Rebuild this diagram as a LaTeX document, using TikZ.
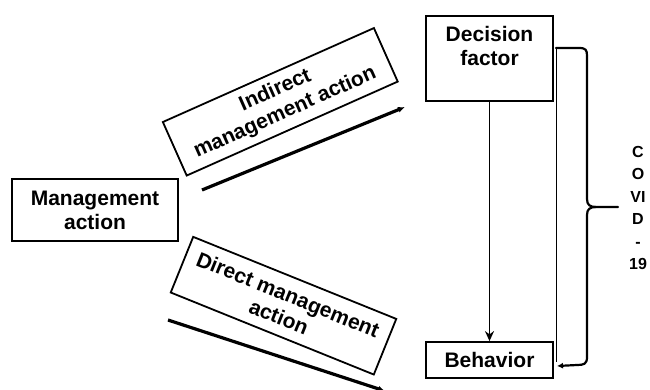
\documentclass[tikz,border=0pt]{standalone}
\usepackage{fontspec}
\setmainfont{Liberation Sans}
\usetikzlibrary{arrows.meta}
\begin{document}
\begin{tikzpicture}[x=1pt,y=-1pt,
  box/.style={draw,line width=1.8pt,inner sep=0pt},
  big/.style={font=\fontsize{21}{24}\selectfont\bfseries,align=center},
  thickarrow/.style={line width=3.2pt,-{Latex[length=7pt 0,width=6pt 0]}},
]
\useasboundingbox (0,0) rectangle (650,389);
% Management action
\node[box,big,minimum width=166pt,minimum height=62pt] (mgmt) at (95,210) {Management\\action};
% Decision factor
\node[box,minimum width=127pt,minimum height=85pt] (dec) at (489.5,58.5) {};
\node[big,anchor=north] (dectxt) at ([yshift=-8pt]dec.north) {Decision\\factor};
% Behavior
\node[box,big,minimum width=127pt,minimum height=36pt] (beh) at (489.5,360) {Behavior};
% rotated boxes
\node[box,big,rotate=24,minimum width=231pt,minimum height=58.6pt] (ind) at (280.3,101.8) {Indirect\\management action};
\node[box,big,rotate=-22,minimum width=219pt,minimum height=60pt] (dir) at (283.5,305.7) {Direct management\\action};
% diagonal arrows
\coordinate (ia) at (202,190);
\coordinate (ib) at (405,107);
\draw[thickarrow] (ia) -- (ib);
\coordinate (da) at (168,320);
\coordinate (db) at (385,391);
\draw[thickarrow] (da) -- (db);
% vertical arrow
\draw[line width=1.8pt,-{Stealth[length=10pt 0,width=9pt 0]}] (dec.south) -- (beh.north);
% brace
\coordinate (bt) at (556,48);
\coordinate (bb) at (556,362);
\coordinate (tip) at (618,207);
\draw[line width=1pt] (bt) -- (bb);
\draw[line width=2.2pt,line cap=round,line join=round]
  (bt) -- (579,48) .. controls (586,48) and (587,50) .. (587,56)
  -- (587,199) .. controls (587,205) and (590,207) .. (596,207) -- (tip);
\draw[line width=2.2pt,line join=round,-{Latex[length=6pt 0,width=6pt 0]}]
  (596,207) .. controls (590,207) and (587,209) .. (587,215)
  -- (587,357) .. controls (587,364) and (584,365) .. (577,365) -- (557,366);
\node[font=\fontsize{16}{22.5}\selectfont\bfseries,align=center] (covid) at (638,208) {C\\O\\VI\\D\\-\\19};
\end{tikzpicture}
\end{document}
